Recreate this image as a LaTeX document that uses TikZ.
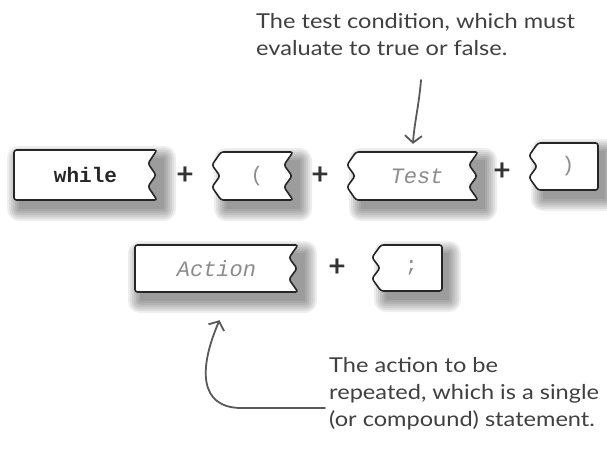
\documentclass[tikz,border=0pt]{standalone}
\usepackage{fontspec}
\setmainfont{Lato}
\newfontfamily\handf[FakeStretch=1.15]{Lato}
\newfontfamily\monof{Liberation Mono}
\usetikzlibrary{arrows.meta}
\tikzset{
 piecedge/.style={draw=black!85,line width=1.6pt,fill=white,rounded corners=2.5pt},
 codetext/.style={font=\monof\fontsize{21}{24}\selectfont,text=black!45},
 keyword/.style={font=\monof\bfseries\fontsize{21}{24}\selectfont,text=black!85},
 placeholder/.style={font=\monof\itshape\fontsize{22}{24}\selectfont,text=black!45},
 plus/.style={font=\fontsize{30}{32}\selectfont\bfseries,text=black!80},
 note/.style={font=\handf\fontsize{20.5}{27}\selectfont,text=black!75,align=left,inner sep=0pt},
 pointer/.style={draw=black!65,line width=1.8pt,line cap=round,-{Straight Barb[length=7pt,width=17pt,line width=1.8pt]}},
}
% #1 name #2 xl #3 xr #4 yt #5 yb #6 left depth #7 right depth #8 style #9 text
\newcommand\piece[9]{%
 \foreach \r in {0,2,...,12}{
  \fill[black,opacity=0.065,rounded corners=\r pt] (#2+5-\r,#4+8-\r) rectangle (#3+7+\r,#5+9+\r);
 }
 \path[piecedge] (#2,#4) -- (#3,#4)
  -- ({#3-#7},{#4+0.27*(#5-#4)}) -- ({#3-#7/9},{(#4+#5)/2}) -- ({#3-#7},{#4+0.73*(#5-#4)}) -- (#3,#5)
  -- (#2,#5)
  -- ({#2-#6},{#4+0.73*(#5-#4)}) -- ({#2-#6/9},{(#4+#5)/2}) -- ({#2-#6},{#4+0.27*(#5-#4)}) -- cycle;
 \node[#8,inner sep=0pt,minimum width={#3-#2},minimum height={#5-#4}] (#1) at ({(#2+#3)/2},{(#4+#5)/2}) {#9};
}
\begin{document}
\begin{tikzpicture}[x=1pt,y=-1pt]
\useasboundingbox[fill=white] (0,0) rectangle (607,453);
\piece{kw}{14}{157}{150}{200}{0}{9}{keyword}{while}
\piece{lp}{221}{293}{152}{200}{9}{9}{codetext}{(}
\piece{test}{356}{478}{152}{200}{9}{9}{placeholder}{Test}
\piece{rp}{538}{598}{143}{190}{9}{0}{codetext}{)}
\piece{act}{135}{298}{245}{292}{0}{9}{placeholder}{Action}
\piece{semi}{381}{442}{245}{291}{9}{0}{codetext}{;}
\node[plus] (p1) at (185,176) {+};
\node[plus] (p2) at (320,176) {+};
\node[plus] (p3) at (502,172) {+};
\node[plus] (p4) at (337,268) {+};
\node[note,anchor=north west] (n1) at (256,13) {The test condition, which must\\evaluate to true or false.};
\node[note,anchor=north west] (n2) at (329,357) {The action to be\\repeated, which is a single\\(or compound) statement.};
\coordinate (a1s) at (421,80);
\draw[pointer] (a1s) .. controls (419,105) and (414,125) .. ([xshift=-4pt,yshift=8pt]test.north);
\coordinate (a2s) at (325,408);
\coordinate (a2m) at (240,408);
\draw[pointer] (a2s) -- (a2m) .. controls (200,407) and (198,370) .. ([xshift=3pt,yshift=-28pt]act.south);
\end{tikzpicture}
\end{document}
